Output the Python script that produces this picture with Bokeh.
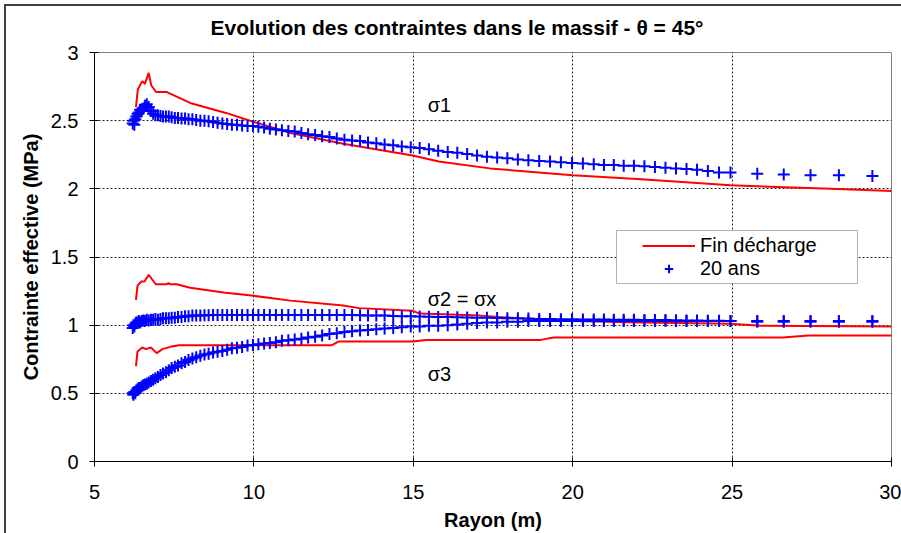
from bokeh.plotting import figure
from bokeh.models import Range1d, FixedTicker, Legend, LegendItem, Label, BoxAnnotation
from bokeh.embed import file_html
from bokeh.resources import INLINE

# ---------------- data ----------------
x_ticks = [5, 10, 15, 20, 25, 30]
x_tick_labels = ["5", "10", "15", "20", "25", "30"]
y_ticks = [0, 0.5, 1, 1.5, 2, 2.5, 3]
y_tick_labels = ["0", "0.5", "1", "1.5", "2", "2.5", "3"]

series_names = ["Fin décharge", "20 ans"]

# "Fin décharge" (red lines)
red_s1_x = [6.30, 6.36, 6.50, 6.58, 6.70, 6.78, 6.93, 7.27, 8.0, 9.15, 10.0, 11.15, 12.8,
            14.98, 15.8, 17.4, 20.0, 22.15, 24.95, 28.1, 30.0]
red_s1_y = [2.60, 2.73, 2.79, 2.77, 2.85, 2.76, 2.71, 2.71, 2.63, 2.555, 2.49, 2.41, 2.33,
            2.245, 2.20, 2.15, 2.10, 2.07, 2.026, 2.00, 1.985]

red_s2_x = [6.30, 6.35, 6.47, 6.57, 6.70, 6.92, 7.27, 7.32, 7.37, 7.58, 8.0, 9.05, 10.0,
            11.15, 12.8, 13.3, 14.98, 15.2, 17.1, 18.6, 20.0, 22.15, 24.95, 25.9, 30.0]
red_s2_y = [1.185, 1.29, 1.32, 1.32, 1.37, 1.30, 1.30, 1.31, 1.30, 1.30, 1.275, 1.24, 1.215,
            1.18, 1.145, 1.125, 1.105, 1.085, 1.07, 1.045, 1.03, 1.02, 1.01, 0.995, 0.99]

red_s3_x = [6.30, 6.35, 6.50, 6.61, 6.77, 6.95, 7.13, 7.38, 7.65, 12.45, 12.65, 14.98, 15.4,
            19.0, 19.4, 26.6, 27.4, 30.0]
red_s3_y = [0.70, 0.807, 0.836, 0.824, 0.836, 0.795, 0.824, 0.841, 0.853, 0.853, 0.88, 0.88,
            0.892, 0.892, 0.91, 0.91, 0.925, 0.925]

# "20 ans" (blue crosses) - radius of mesh points
blue_x = [6.20, 6.22, 6.25, 6.28, 6.31, 6.35, 6.39, 6.43, 6.48, 6.53,
          6.58, 6.64, 6.70, 6.77, 6.84, 6.91, 6.99, 7.07, 7.15, 7.24,
          7.33, 7.42, 7.52, 7.62, 7.73, 7.84, 7.95, 8.07, 8.19, 8.32,
          8.45, 8.58, 8.72, 8.86, 9.01, 9.16, 9.31, 9.47, 9.63, 9.80,
          9.97, 10.14, 10.32, 10.50, 10.69, 10.88, 11.08, 11.28, 11.49, 11.70,
          11.92, 12.14, 12.37, 12.60, 12.84, 13.08, 13.33, 13.58, 13.84, 14.10,
          14.37, 14.64, 14.92, 15.20, 15.49, 15.78, 16.08, 16.38, 16.69, 17.00,
          17.31, 17.63, 17.95, 18.28, 18.61, 18.95, 19.29, 19.63, 19.98, 20.32,
          20.66, 20.98, 21.29, 21.60, 21.92, 22.25, 22.58, 22.91, 23.24, 23.57,
          23.90, 24.24, 24.59, 24.95, 25.79, 26.62, 27.46, 28.35, 29.40]

blue_s1_y = [2.48, 2.50, 2.47, 2.51, 2.53, 2.55, 2.56, 2.58, 2.57, 2.59,
             2.61, 2.62, 2.60, 2.57, 2.55, 2.54, 2.54, 2.535, 2.53, 2.53,
             2.53, 2.525, 2.52, 2.52, 2.515, 2.515, 2.51, 2.51, 2.505, 2.50,
             2.50, 2.495, 2.49, 2.485, 2.48, 2.475, 2.47, 2.47, 2.465, 2.46,
             2.46, 2.455, 2.45, 2.44, 2.435, 2.43, 2.425, 2.42, 2.41, 2.40,
             2.395, 2.385, 2.38, 2.37, 2.36, 2.355, 2.35, 2.34, 2.335, 2.325,
             2.32, 2.31, 2.305, 2.30, 2.29, 2.28, 2.27, 2.265, 2.255, 2.245,
             2.235, 2.23, 2.225, 2.215, 2.21, 2.205, 2.20, 2.195, 2.19, 2.185,
             2.18, 2.175, 2.175, 2.17, 2.17, 2.165, 2.16, 2.155, 2.15, 2.145,
             2.14, 2.13, 2.12, 2.12, 2.11, 2.105, 2.10, 2.10, 2.095]

blue_s2_y = [0.98, 1.00, 0.99, 1.01, 1.02, 1.02, 1.03, 1.02, 1.03, 1.035,
             1.03, 1.04, 1.035, 1.04, 1.04, 1.045, 1.04, 1.045, 1.05, 1.05,
             1.05, 1.055, 1.055, 1.06, 1.06, 1.065, 1.065, 1.07, 1.07, 1.07,
             1.072, 1.072, 1.075, 1.075, 1.075, 1.075, 1.075, 1.075, 1.075, 1.075,
             1.075, 1.075, 1.075, 1.075, 1.075, 1.075, 1.075, 1.075, 1.075, 1.075,
             1.075, 1.075, 1.075, 1.075, 1.075, 1.075, 1.072, 1.07, 1.07, 1.07,
             1.068, 1.066, 1.065, 1.063, 1.062, 1.06, 1.06, 1.058, 1.056, 1.055,
             1.055, 1.053, 1.05, 1.05, 1.048, 1.046, 1.045, 1.044, 1.043, 1.042,
             1.042, 1.041, 1.04, 1.04, 1.04, 1.038, 1.038, 1.037, 1.036, 1.035,
             1.035, 1.033, 1.032, 1.03, 1.03, 1.03, 1.03, 1.03, 1.03]

blue_s3_y = [0.50, 0.49, 0.51, 0.50, 0.52, 0.53, 0.54, 0.54, 0.55, 0.56,
             0.565, 0.57, 0.58, 0.59, 0.60, 0.61, 0.62, 0.635, 0.645, 0.655,
             0.67, 0.685, 0.695, 0.705, 0.72, 0.73, 0.745, 0.755, 0.765, 0.775,
             0.785, 0.79, 0.80, 0.805, 0.81, 0.82, 0.83, 0.835, 0.84, 0.85,
             0.855, 0.86, 0.865, 0.87, 0.875, 0.885, 0.89, 0.895, 0.90, 0.91,
             0.915, 0.925, 0.935, 0.94, 0.95, 0.955, 0.96, 0.965, 0.97, 0.975,
             0.98, 0.985, 0.99, 0.99, 0.995, 0.995, 1.00, 1.005, 1.01, 1.015,
             1.02, 1.02, 1.025, 1.025, 1.03, 1.03, 1.03, 1.03, 1.03, 1.03,
             1.03, 1.03, 1.03, 1.03, 1.03, 1.03, 1.03, 1.03, 1.03, 1.03,
             1.03, 1.03, 1.03, 1.03, 1.025, 1.025, 1.025, 1.025, 1.025]

annot_texts = ["σ1", "σ2 = σx", "σ3"]
annot_x = [15.45, 15.45, 15.45]
annot_y = [2.615, 1.19, 0.64]

title_text = "Evolution des contraintes dans le massif - θ = 45°"
x_label = "Rayon (m)"
y_label = "Contrainte effective (MPa)"

# ---------------- figure ----------------
FONT = "Liberation Sans"
RED = "#FF0000"
BLUE = "#0000FF"

p = figure(width=901, height=533, output_backend="svg", toolbar_location=None,
           x_range=Range1d(5, 30), y_range=Range1d(0, 3),
           min_border_left=94, min_border_right=10, min_border_top=51, min_border_bottom=72)
p.background_fill_color = "white"
p.border_fill_color = "white"
p.border_fill_alpha = 0
p.outline_line_color = "#808080"
p.outline_line_width = 1
# outer chart border (left & top dark lines)
p.styles = {
    "background": ("linear-gradient(#404040, #404040) 4px 4px / 2px calc(100% - 4px) no-repeat, "
                   "linear-gradient(#404040, #404040) 4px 4px / calc(100% - 4px) 2px no-repeat, "
                   "#ffffff")
}

# title
p.title.text = title_text
p.title.text_font = FONT
p.title.text_font_size = "21px"
p.title.text_font_style = "bold"
p.title.text_color = "black"
p.title.align = "left"
p.title.offset = 116
p.title.standoff = 27

p.xaxis.ticker = FixedTicker(ticks=x_ticks)
p.yaxis.ticker = FixedTicker(ticks=y_ticks)
p.xaxis.major_label_overrides = dict(zip(x_ticks, x_tick_labels))
p.yaxis.major_label_overrides = dict(zip(y_ticks, y_tick_labels))
p.xgrid.ticker = FixedTicker(ticks=x_ticks)
p.ygrid.ticker = FixedTicker(ticks=y_ticks)

for ax in p.axis:
    ax.axis_line_color = "black"
    ax.axis_line_width = 1
    ax.major_tick_line_color = "black"
    ax.major_tick_in = 4
    ax.major_tick_out = 5
    ax.minor_tick_line_color = None
    ax.major_label_text_font = FONT
    ax.major_label_text_font_size = "20px"
    ax.major_label_text_color = "black"
    ax.axis_label_text_font = FONT
    ax.axis_label_text_font_style = "bold"
    ax.axis_label_text_font_size = "20px"
    ax.axis_label_text_color = "black"

p.xaxis.axis_label = x_label
p.yaxis.axis_label = y_label
p.xaxis.major_label_standoff = 18
p.yaxis.major_label_standoff = 11
p.xaxis.axis_label_standoff = 7
p.yaxis.axis_label_standoff = 6

p.grid.grid_line_color = "black"
p.grid.grid_line_dash = "2 2"
p.grid.grid_line_width = 1
p.grid.grid_line_alpha = 0.85

# data
r_red = []
for xs, ys in [(red_s1_x, red_s1_y), (red_s2_x, red_s2_y), (red_s3_x, red_s3_y)]:
    r_red.append(p.line(xs, ys, line_color=RED, line_width=2))
r_blue = []
for ys in [blue_s1_y, blue_s2_y, blue_s3_y]:
    r_blue.append(p.scatter(blue_x, ys, marker="cross", size=12, line_color=BLUE, line_width=2))

# annotations
for t, ax_, ay_ in zip(annot_texts, annot_x, annot_y):
    p.add_layout(Label(x=ax_, y=ay_, text=t, text_font=FONT, text_font_size="20px",
                       text_color="black", text_align="left", text_baseline="alphabetic"))

# legend box
p.add_layout(BoxAnnotation(left=522, right=763, top=231, bottom=178,
                           left_units="screen", right_units="screen",
                           top_units="screen", bottom_units="screen",
                           fill_color="white", fill_alpha=1, line_color="black", line_width=1))

legend = Legend(items=[LegendItem(label=series_names[0], renderers=[r_red[0]]),
                       LegendItem(label=series_names[1], renderers=[r_blue[0]])],
                location=(548, 181), padding=0, spacing=0, margin=0,
                glyph_width=53, glyph_height=21, label_height=21, label_standoff=5,
                label_text_font=FONT, label_text_font_size="20px", label_text_color="black",
                border_line_alpha=0, background_fill_alpha=0)
p.add_layout(legend)

open("out.html", "w").write(file_html(p, INLINE))
